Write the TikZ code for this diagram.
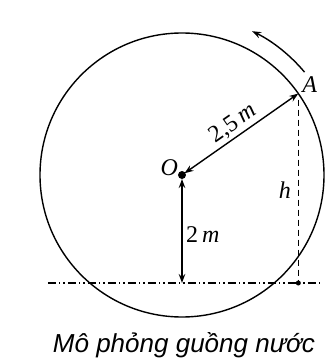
\documentclass[tikz,border=0pt]{standalone}
\usepackage{fontspec}
\setmainfont{Liberation Serif}
\newfontfamily\capfont{Liberation Sans}
\usetikzlibrary{positioning,arrows.meta}
\begin{document}
\begin{tikzpicture}[x=1pt,y=1pt,line width=1.4pt,
  >={Stealth[length=9pt,width=6.5pt]},
  lbl/.style={font=\fontsize{24}{24}\selectfont},
  ground/.style={line width=1.1pt,dash pattern=on 8pt off 3pt on 1.5pt off 3pt on 1.5pt off 3pt}]
  \useasboundingbox (0,0) rectangle (335,360);
  \coordinate (O) at (182,185);
  \path (O) ++(35:142) coordinate (A);
  \coordinate (F) at (A |- 0,77);
  \coordinate (B) at (O |- 0,77);
  \coordinate (gl) at (48,77);
  \coordinate (gr) at (320,77);
  \draw (O) circle (142);
  \draw[ground] (gl) -- (gr);
  \draw[line width=1.1pt,dash pattern=on 6pt off 4pt] ([yshift=-6pt]A) -- (F);
  \fill (O) circle (4);
  \fill (F) circle (2.5);
  \node[lbl,left=0pt of O,yshift=7pt] (lO) {\textit{O}};
  \node[lbl,above right=-3pt and 0pt of A] (lA) {\textit{A}};
  \node[lbl] (lh) at (285,170) {\textit{h}};
  \path[<->]
  (O) edge[shorten <=3pt] node[lbl,above=-1pt,sloped] {2,5\,\textit{m}} (A)
  (O) edge[shorten <=4pt] node[lbl,right,pos=0.55] {2\,\textit{m}} (B);
  \draw[->] (O) ++(40:160) arc (40:64:160);
  \node[font=\capfont\itshape\fontsize{26}{26}\selectfont,anchor=base] (cap) at (184,8) {Mô phỏng guồng nước};
\end{tikzpicture}
\end{document}
